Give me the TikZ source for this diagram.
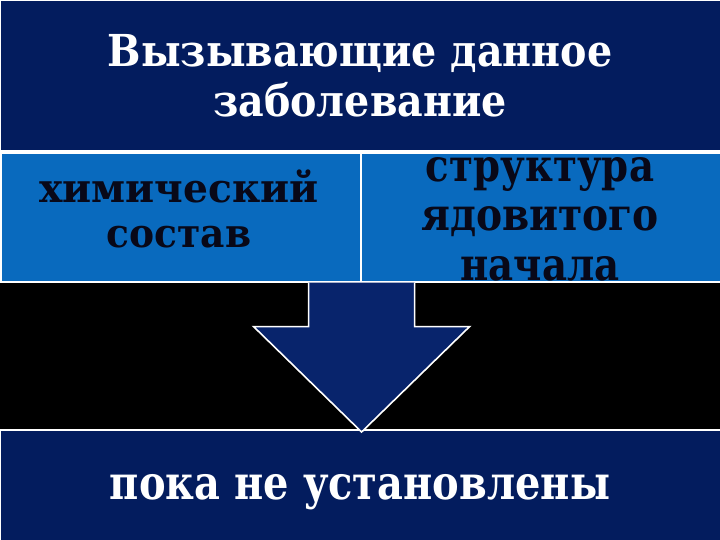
\documentclass[tikz,border=0pt]{standalone}
\usepackage{fontspec}
\usepackage{graphicx}
\setmainfont{DejaVu Serif}
\usetikzlibrary{calc}
\definecolor{navy}{RGB}{3,28,94}
\definecolor{arrownavy}{RGB}{8,36,108}
\definecolor{midblue}{RGB}{9,106,190}
\definecolor{inkdark}{RGB}{8,8,24}
\newcommand{\narrowtext}[2]{\scalebox{#1}[1]{#2}}
\tikzset{
  panel/.style={draw=white, line width=1.6pt, inner sep=0pt, anchor=north west},
  titletext/.style={text=white, font=\bfseries\fontsize{44}{49}\selectfont, anchor=base, inner sep=0pt},
  bottomtext/.style={text=white, font=\bfseries\fontsize{47}{52}\selectfont, anchor=base, inner sep=0pt},
  lefttext/.style={text=inkdark, font=\bfseries\fontsize{40}{45}\selectfont, anchor=base, inner sep=0pt},
  righttext/.style={text=inkdark, font=\bfseries\fontsize{45}{49}\selectfont, anchor=base, inner sep=0pt},
}
\begin{document}
\begin{tikzpicture}[x=1pt,y=1pt]
\fill[black] (0,0) rectangle (720,540);
\useasboundingbox (0,0) rectangle (720,540);
% panels
\node[panel, fill=navy, minimum width=722pt, minimum height=151pt] (top) at (-1,541) {};
\node[panel, fill=midblue, minimum width=360pt, minimum height=129pt] (left) at (0,388) {};
\node[panel, fill=midblue, minimum width=360pt, minimum height=129pt] (right) at (360,388) {};
\node[panel, fill=navy, minimum width=722pt, minimum height=112pt] (bottom) at (-1,111) {};
% arrow
\coordinate (a1) at ($(left.south east)+(-53,0)$);
\coordinate (a7) at ($(left.south east)+(53,0)$);
\coordinate (tip) at ($(left.south east |- bottom.north)+(0,-3)$);
\fill[arrownavy] (a1) -- ($(a1)+(0,-44)$) -- ($(a1)+(-55,-44)$) -- (tip) -- ($(a7)+(55,-44)$) -- ($(a7)+(0,-44)$) -- (a7) -- cycle;
\draw[white, line width=1.6pt, line join=miter] (a1) -- ($(a1)+(0,-44)$) -- ($(a1)+(-55,-44)$) -- (tip) -- ($(a7)+(55,-44)$) -- ($(a7)+(0,-44)$) -- (a7);
% texts
\node[titletext] (t1) at (360,473) {\narrowtext{0.9}{Вызывающие данное}};
\node[titletext] (t2) at (360,423) {\narrowtext{0.9}{заболевание}};
\node[lefttext] (l1) at (179,337) {\narrowtext{0.98}{химический}};
\node[lefttext] (l2) at (179,292) {\narrowtext{0.94}{состав}};
\node[righttext] (r1) at (540,358) {\narrowtext{0.86}{структура}};
\node[righttext] (r2) at (540,309) {\narrowtext{0.87}{ядовитого}};
\node[righttext] (r3) at (540,259) {\narrowtext{0.86}{начала}};
\node[bottomtext] (b1) at (360,40) {\narrowtext{0.85}{пока не установлены}};
\end{tikzpicture}
\end{document}
